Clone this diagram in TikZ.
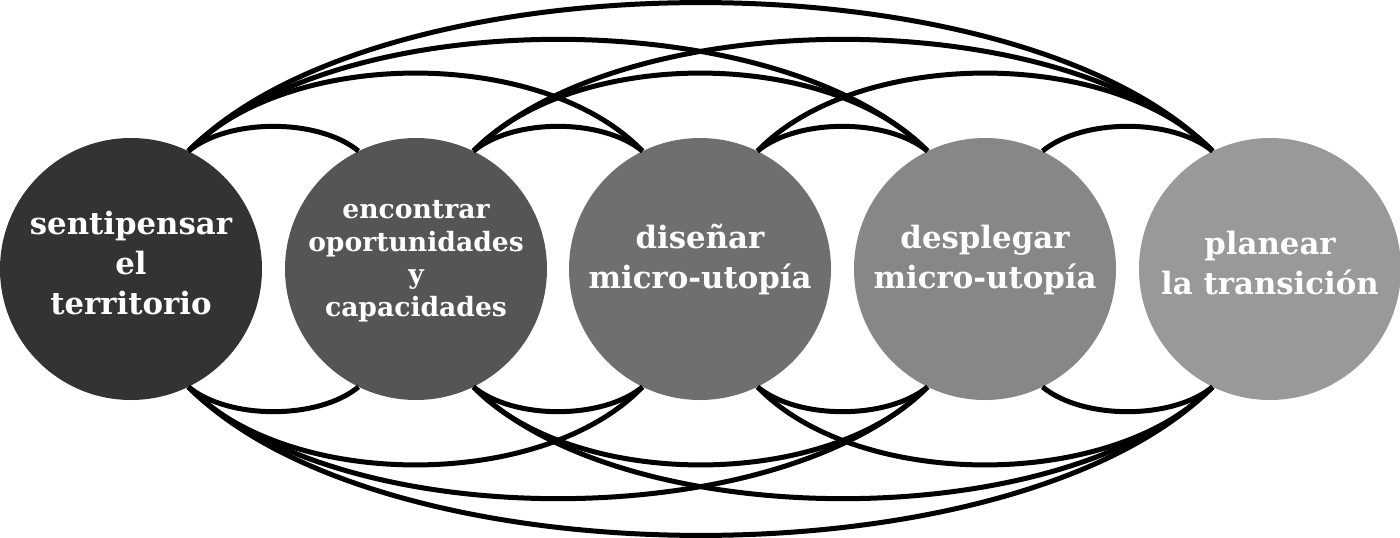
\documentclass[tikz,border=0pt]{standalone}
\usepackage{fontspec}
\setmainfont{DejaVu Serif}
\definecolor{g1}{HTML}{333333}
\definecolor{g2}{HTML}{555555}
\definecolor{g3}{HTML}{6F6F6F}
\definecolor{g4}{HTML}{878787}
\definecolor{g5}{HTML}{999999}
\tikzset{
  stage/.style={circle, minimum size=262pt, inner sep=0pt},
  stagetext/.style={text=white, align=center, inner sep=0pt,
    font=\bfseries\fontsize{30.8}{40}\selectfont},
  smallstagetext/.style={stagetext, font=\bfseries\fontsize{26.6}{32.5}\selectfont},
  link/.style={line width=5pt, black},
}
\begin{document}
\begin{tikzpicture}[x=1pt,y=-1pt]
\useasboundingbox (0,0) rectangle (1400,538);
\fill[white] (0,0) rectangle (1400,538);
\node[stage, fill=g1] (c1) at (131,269) {};
\node[stage, fill=g2] (c2) at (416,269) {};
\node[stage, fill=g3] (c3) at (700,269) {};
\node[stage, fill=g4] (c4) at (985,269) {};
\node[stage, fill=g5] (c5) at (1270,269) {};
\node[stagetext] (t1) at (131,263) {sentipensar\\el\\territorio};
\node[smallstagetext] (t2) at (416,261) {encontrar\\oportunidades\\y\\capacidades};
\node[stagetext] (t3) at (700,260) {diseñar\\micro-utopía};
\node[stagetext] (t4) at (985,260) {desplegar\\micro-utopía};
\node[stagetext] (t5) at (1270,263) {planear\\la transición};
% span 1
\foreach \a/\b in {c1/c2,c2/c3,c3/c4,c4/c5}{
  \draw[link] (\a.64) .. controls +(40,-33) and +(-40,-33) .. (\b.116);
  \draw[link] (\a.-64) .. controls +(40,33) and +(-40,33) .. (\b.-116);
}
% span 2
\foreach \a/\b in {c1/c3,c2/c4,c3/c5}{
  \draw[link] (\a.64) .. controls +(100,-104) and +(-100,-104) .. (\b.116);
  \draw[link] (\a.-64) .. controls +(100,104) and +(-100,104) .. (\b.-116);
}
% span 3
\foreach \a/\b in {c1/c4,c2/c5}{
  \draw[link] (\a.64) .. controls +(150,-149) and +(-150,-149) .. (\b.116);
  \draw[link] (\a.-64) .. controls +(150,149) and +(-150,149) .. (\b.-116);
}
% span 4
\draw[link] (c1.64) .. controls +(196,-198) and +(-196,-198) .. (c5.116);
\draw[link] (c1.-64) .. controls +(196,198) and +(-196,198) .. (c5.-116);
\end{tikzpicture}
\end{document}
